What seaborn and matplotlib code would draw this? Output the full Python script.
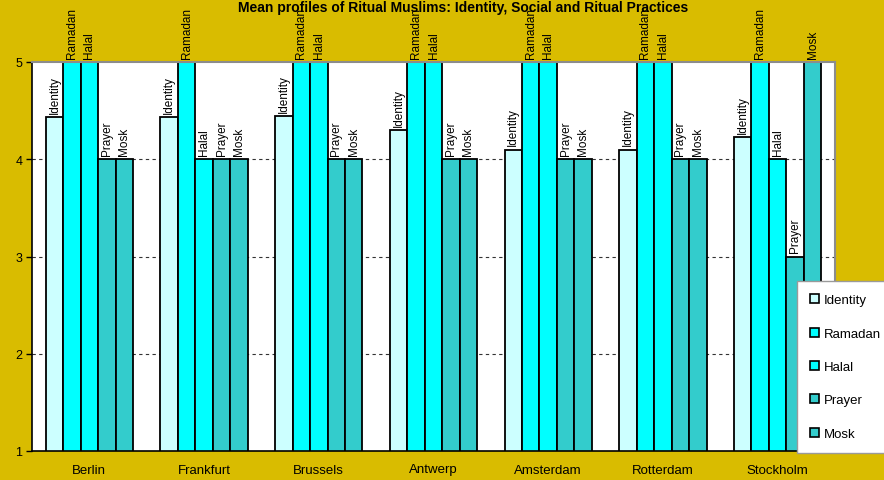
import matplotlib
matplotlib.use("Agg")
import matplotlib.pyplot as plt
import seaborn as sns
import pandas as pd
import numpy as np

cities = ["Berlin", "Frankfurt", "Brussels", "Antwerp", "Amsterdam", "Rotterdam", "Stockholm"]
measures = ["Identity", "Ramadan", "Halal", "Prayer", "Mosk"]

identity = [4.43, 4.43, 4.44, 4.30, 4.10, 4.10, 4.23]
ramadan = [5, 5, 5, 5, 5, 5, 5]
halal = [5, 4, 5, 5, 5, 5, 4]
prayer = [4, 4, 4, 4, 4, 4, 3]
mosk = [4, 4, 4, 4, 4, 4, 5]

bar_colors = ["#CCFFFF", "#00FFFF", "#00FFFF", "#33CCCC", "#33CCCC"]
bg_gold = "#D9BC00"

df = pd.DataFrame({
    "city": np.repeat(cities, len(measures)),
    "measure": measures * len(cities),
    "score": np.column_stack([identity, ramadan, halal, prayer, mosk]).ravel(),
})

sns.set_theme(style="white")
plt.rcParams["font.family"] = ["Liberation Sans", "DejaVu Sans"]
plt.rcParams["text.color"] = "black"
plt.rcParams["xtick.color"] = "black"
plt.rcParams["ytick.color"] = "black"
plt.rcParams["axes.labelcolor"] = "black"

fig = plt.figure(figsize=(8.84, 4.81), dpi=100, facecolor=bg_gold)
ax = fig.add_axes([32 / 884, 1 - 452 / 481, (835 - 32) / 884, (452 - 63) / 481])
ax.set_facecolor("white")

sns.barplot(data=df, x="city", y="score", hue="measure", order=cities,
            hue_order=measures, palette=bar_colors, width=0.76,
            edgecolor="black", linewidth=1.3, saturation=1, ax=ax)

for cont, name in zip(ax.containers, measures):
    ax.bar_label(cont, labels=[name] * len(cont), rotation=90, padding=3,
                 fontsize=8.5, color="black")

ax.set_ylim(1, 5)
ax.set_xlim(-0.5, len(cities) - 0.5)
ax.set_yticks([1, 2, 3, 4, 5])
ax.set_yticklabels(["1", "2", "3", "4", "5"], fontsize=9)
ax.set_xticks(range(len(cities)))
ax.set_xticklabels(cities, fontsize=9.5)
ax.set_xticks(np.arange(-0.5, len(cities)), minor=True)
ax.tick_params(axis="x", which="major", length=0, pad=9, labelcolor="black")
ax.tick_params(axis="x", which="minor", length=4, width=1, color="black", direction="out")
ax.tick_params(axis="y", length=4, width=1, color="black", direction="out", pad=3,
               left=True, labelcolor="black")
ax.set_xlabel("")
ax.set_ylabel("")

for y in [2, 3, 4]:
    ax.axhline(y, color="#333333", linewidth=0.8, linestyle=(0, (3, 3)), zorder=0)

for side in ["left", "bottom"]:
    ax.spines[side].set_color("black")
    ax.spines[side].set_linewidth(1.2)
for side in ["top", "right"]:
    ax.spines[side].set_color("#8C8C8C")
    ax.spines[side].set_linewidth(1.5)

fig.text(463 / 884, 1 - 1 / 481, "Mean profiles of Ritual Muslims: Identity, Social and Ritual Practices",
         ha="center", va="top", fontsize=10, fontweight="bold", color="black")

handles, labels = ax.get_legend_handles_labels()
ax.legend_.remove()
leg = fig.legend(handles, labels, loc="upper left", bbox_to_anchor=(797 / 884, 1 - 282 / 481),
                 frameon=True, fancybox=False, shadow=False,
                 prop={"size": 9.5},
                 handlelength=0.7, handleheight=0.7, handletextpad=0.3,
                 labelspacing=1.6, borderpad=1.0, borderaxespad=0)
leg.get_frame().set_edgecolor("#9A9A9A")
leg.get_frame().set_linewidth(1.0)
leg.get_frame().set_facecolor("white")
leg.get_frame().set_alpha(1)
for t in leg.get_texts():
    t.set_color("black")
for h in leg.legend_handles:
    h.set_edgecolor("black")
    h.set_linewidth(1.2)

fig.savefig("out.png", dpi=100, facecolor=bg_gold)
